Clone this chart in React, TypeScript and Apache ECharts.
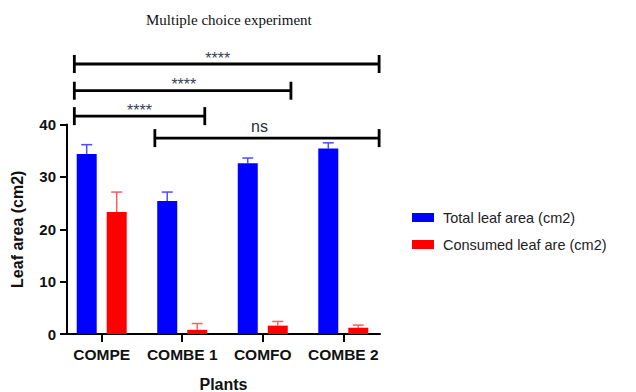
import React, { useEffect, useRef } from "react";
import * as echarts from "echarts";

const categories = ["COMPE", "COMBE 1", "COMFO", "COMBE 2"];
const totalMean = [34.35, 25.4, 32.6, 35.4];
const totalSD = [1.8, 1.7, 1.0, 1.1];
const consumedMean = [23.3, 0.8, 1.6, 1.2];
const consumedSD = [3.8, 1.2, 0.8, 0.5];
// brackets: [x start, x end, y level, label x, label]
const brackets: [number, number, number, number, string][] = [
  [-0.34, 3.445, 51.55, 1.44, "****"],
  [-0.34, 2.35, 46.45, 1.02, "****"],
  [-0.34, 1.28, 41.6, 0.47, "****"],
  [0.66, 3.445, 37.4, 1.96, "ns"],
];

const BLUE = "#0000FF";
const RED = "#FF0000";

function errorSeries(name: string, means: number[], sds: number[], color: string, offset: number) {
  return {
    type: "custom",
    name: name + "-err",
    silent: true,
    z: 1,
    data: means.map((m, i) => [i, m, m + sds[i]]),
    encode: { x: 0, y: [1, 2] },
    renderItem: (params: any, api: any) => {
      const b = api.coord([api.value(0), api.value(1)]);
      const t = api.coord([api.value(0), api.value(2)]);
      const x = b[0] + offset;
      return {
        type: "group",
        children: [
          { type: "line", shape: { x1: x, y1: b[1], x2: x, y2: t[1] }, style: { stroke: color, lineWidth: 1.5 } },
          { type: "line", shape: { x1: x - 5.5, y1: t[1], x2: x + 5.5, y2: t[1] }, style: { stroke: color, lineWidth: 1.5 } },
        ],
      };
    },
  };
}

export default function App() {
  const ref = useRef<HTMLDivElement>(null);
  useEffect(() => {
    document.body.style.margin = "0";
    const chart = echarts.init(ref.current!, undefined, { renderer: "svg" });
    chart.setOption({
      animation: false,
      backgroundColor: "#fff",
      title: {
        text: "Multiple choice experiment",
        left: 141,
        top: 7,
        textStyle: { fontFamily: "Liberation Serif", fontSize: 15, fontWeight: "normal", color: "#111" },
      },
      legend: {
        orient: "vertical",
        left: 407,
        top: 205,
        itemWidth: 22,
        itemHeight: 9,
        itemGap: 12,
        icon: "rect",
        data: ["Total leaf area (cm2)", "Consumed leaf are (cm2)"],
        textStyle: { fontFamily: "Liberation Sans", fontSize: 14.5, color: "#222", padding: [0, 0, 0, 4] },
      },
      grid: { left: 67, top: 124.5, right: 256, bottom: 58, containLabel: false, outerBoundsMode: "none" },
      xAxis: {
        type: "value",
        min: -0.431,
        max: 3.456,
        name: "Plants",
        nameLocation: "middle",
        nameGap: 42,
        nameTextStyle: { fontFamily: "Liberation Sans", fontSize: 16, fontWeight: "bold", color: "#111" },
        axisLine: { show: true, onZero: false, lineStyle: { color: "#000", width: 2 } },
        axisTick: { show: true, customValues: [0, 1, 2, 3], length: 8, lineStyle: { color: "#000", width: 2 } },
        axisLabel: {
          customValues: [0, 1, 2, 3],
          formatter: (v: number) => categories[Math.round(v)] ?? "",
          fontFamily: "Liberation Sans",
          fontSize: 15.5,
          fontWeight: "bold",
          color: "#111",
          margin: 12,
        },
        splitLine: { show: false },
      },
      yAxis: {
        type: "value",
        min: 0,
        max: 40,
        interval: 10,
        name: "Leaf area (cm2)",
        nameLocation: "middle",
        nameGap: 42,
        nameTextStyle: { fontFamily: "Liberation Sans", fontSize: 16, fontWeight: "bold", color: "#111" },
        axisLine: { show: true, onZero: false, lineStyle: { color: "#000", width: 2 } },
        axisTick: { show: true, length: 7, lineStyle: { color: "#000", width: 2 } },
        axisLabel: { fontFamily: "Liberation Sans", fontSize: 15, fontWeight: "bold", color: "#111", margin: 11 },
        splitLine: { show: false },
      },
      series: [
        {
          type: "bar",
          name: "Total leaf area (cm2)",
          data: totalMean.map((v, i) => [i, v]),
          barWidth: 20,
          barGap: "50%",
          itemStyle: { color: BLUE },
          z: 2,
        },
        {
          type: "bar",
          name: "Consumed leaf are (cm2)",
          data: consumedMean.map((v, i) => [i, v]),
          barWidth: 20,
          barGap: "50%",
          itemStyle: { color: RED },
          z: 2,
        },
        errorSeries("Total", totalMean, totalSD, "#4d4dff", -15),
        errorSeries("Consumed", consumedMean, consumedSD, "#ff5c5c", 15),
        {
          type: "custom",
          name: "brackets",
          silent: true,
          clip: false,
          data: brackets.map((b) => [b[0], b[1], b[2], b[3]]),
          encode: { x: [0, 1, 3], y: 2 },
          renderItem: (params: any, api: any) => {
            const p1 = api.coord([api.value(0), api.value(2)]);
            const p2 = api.coord([api.value(1), api.value(2)]);
            const pl = api.coord([api.value(3), api.value(2)]);
            const label = brackets[params.dataIndex][4];
            const isNs = label === "ns";
            const st = { stroke: "#000", lineWidth: 2.8 };
            return {
              type: "group",
              children: [
                { type: "line", shape: { x1: p1[0], y1: p1[1], x2: p2[0], y2: p2[1] }, style: st },
                { type: "line", shape: { x1: p1[0], y1: p1[1] - 9, x2: p1[0], y2: p1[1] + 9 }, style: st },
                { type: "line", shape: { x1: p2[0], y1: p2[1] - 9, x2: p2[0], y2: p2[1] + 9 }, style: st },
                {
                  type: "text",
                  x: pl[0],
                  y: p1[1] - (isNs ? 12 : 6),
                  style: {
                    text: label,
                    align: "center",
                    verticalAlign: "middle",
                    fontFamily: "Liberation Sans",
                    fontSize: 16,
                    fontWeight: "normal",
                    fill: isNs ? "#2a2f3a" : "#3a4152",
                  },
                },
              ],
            };
          },
        },
      ],
    });
    return () => chart.dispose();
  }, []);
  return <div ref={ref} style={{ width: 636, height: 392 }} />;
}
